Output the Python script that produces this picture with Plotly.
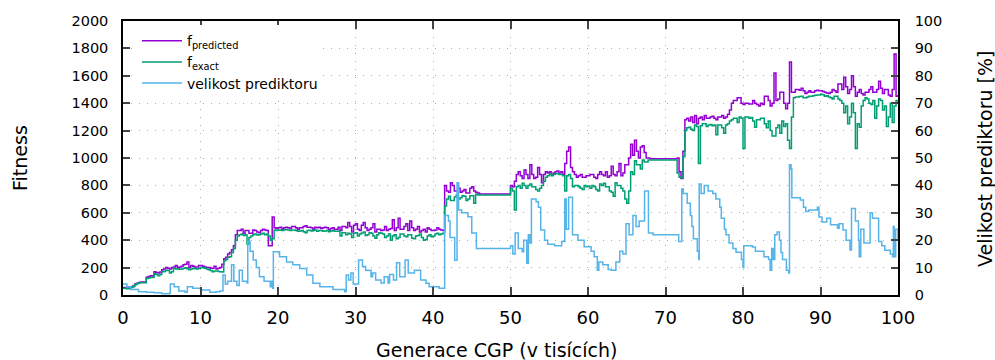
import plotly.graph_objects as go

# ---------------- data ----------------
# fitness sampled every 0.25 (thousands of generations)
x_fit = [i * 0.25 for i in range(401)]

f_exact = [
    50, 48, 45, 47, 55, 60, 75, 82, 88, 90, 90, 89, 120, 125, 130, 128, 155, 150, 140, 150,
    170, 172, 180, 178, 160, 170, 195, 190, 192, 188, 190, 195, 198, 192, 185, 190, 195, 192, 190, 196,
    200, 198, 195, 190, 185, 178, 170, 175, 175, 172, 170, 168, 250, 260, 275, 280, 310, 340, 400, 430,
    440, 445, 435, 440, 370, 420, 430, 440, 445, 438, 440, 445, 450, 440, 445, 430, 400, 410, 475, 470,
    475, 472, 470, 476, 478, 474, 470, 475, 475, 470, 465, 468, 470, 462, 455, 470, 472, 468, 470, 474,
    465, 470, 470, 466, 468, 470, 462, 468, 470, 465, 465, 468, 430, 455, 455, 440, 450, 445, 420, 450,
    455, 430, 445, 452, 460, 435, 440, 455, 450, 430, 415, 440, 455, 450, 445, 420, 430, 445, 400, 430,
    440, 410, 420, 445, 445, 430, 425, 440, 440, 415, 410, 430, 435, 445, 420, 400, 405, 430, 440, 425,
    430, 445, 450, 440, 445, 450, 650, 700, 720, 690, 690, 715, 730, 700, 710, 725, 720, 690, 700, 725,
    725, 670, 735, 730, 730, 730, 730, 730, 730, 730, 730, 730, 730, 730, 730, 730, 730, 730, 730, 730,
    780, 760, 620, 790, 800, 780, 815, 800, 780, 800, 810, 790, 790, 770, 760, 780, 800, 830, 860, 870,
    885, 870, 880, 885, 885, 880, 880, 870, 760, 870, 880, 850, 790, 800, 800, 790, 780, 770, 800, 790,
    795, 780, 800, 790, 770, 760, 810, 800, 815, 790, 790, 760, 750, 720, 820, 800, 800, 780, 760, 700,
    670, 760, 900, 880, 980, 950, 950, 920, 985, 970, 970, 985, 985, 985, 985, 985, 985, 985, 985, 985,
    985, 985, 985, 985, 985, 985, 890, 860, 855, 1010, 1200, 1220, 1225, 1210, 1200, 1240, 1230, 960, 1235, 1250,
    1250, 1230, 1240, 1245, 1235, 1240, 1170, 1240, 1240, 1220, 1180, 1240, 1250, 1270, 1280, 1290, 1290, 1260, 1300, 1290,
    1070, 1300, 1300, 1290, 1295, 1270, 1225, 1280, 1280, 1290, 1290, 1250, 1220, 1270, 1200, 1160, 1160, 1220, 1240, 1180,
    1270, 1230, 1250, 1130, 1070, 1300, 1440, 1445, 1445, 1448, 1450, 1440, 1440, 1445, 1450, 1450, 1455, 1458, 1460, 1460,
    1465, 1462, 1450, 1455, 1445, 1440, 1430, 1450, 1450, 1430, 1420, 1400, 1330, 1380, 1250, 1300, 1400, 1330, 1070, 1250,
    1225, 1380, 1420, 1440, 1430, 1400, 1390, 1420, 1290, 1380, 1430, 1420, 1350, 1380, 1230, 1300, 1400, 1260, 1380, 1420,
    1410,
]

f_predicted = [
    55, 52, 50, 52, 60, 65, 80, 86, 92, 95, 95, 94, 130, 135, 140, 138, 170, 165, 160, 168,
    185, 190, 200, 195, 190, 200, 205, 215, 200, 205, 210, 220, 225, 240, 200, 215, 210, 205, 205, 215,
    215, 210, 205, 200, 200, 195, 195, 210, 190, 195, 200, 225, 265, 275, 300, 310, 330, 360, 440, 470,
    470, 480, 450, 470, 470, 450, 450, 475, 470, 460, 455, 470, 480, 475, 470, 360, 360, 570, 490, 485,
    490, 495, 480, 490, 495, 490, 485, 500, 500, 490, 480, 490, 490, 500, 505, 495, 495, 490, 480, 495,
    490, 495, 485, 490, 495, 490, 475, 485, 490, 480, 480, 495, 470, 500, 500, 490, 530, 500, 460, 510,
    520, 480, 470, 510, 530, 490, 470, 480, 490, 520, 460, 480, 480, 470, 475, 500, 470, 480, 485, 550,
    470, 490, 560, 480, 480, 500, 520, 470, 540, 490, 470, 480, 500, 460, 470, 480, 460, 490, 480, 470,
    470, 475, 490, 480, 475, 470, 800, 760, 750, 820, 800, 760, 760, 780, 750, 760, 770, 745, 745, 780,
    790, 760, 750, 745, 737, 737, 737, 737, 737, 737, 737, 737, 737, 737, 737, 737, 737, 737, 737, 737,
    800, 790, 830, 880, 900, 870, 850, 912, 880, 850, 950, 880, 850, 860, 930, 880, 820, 880, 900, 890,
    900, 880, 890, 900, 905, 890, 900, 880, 960, 1050, 1080, 930, 900, 880, 860, 870, 880, 860, 860, 870,
    870, 880, 880, 860, 850, 880, 900, 880, 870, 900, 860, 870, 940, 880, 870, 900, 960, 870, 890, 950,
    950, 1000, 1100, 1020, 1130, 1050, 1000, 1080, 1090, 1040, 1000, 1000, 995, 995, 995, 995, 995, 995, 995, 995,
    995, 995, 995, 995, 995, 995, 1000, 900, 850, 1050, 1280, 1290, 1270, 1300, 1260, 1310, 1250, 1290, 1300, 1280,
    1310, 1290, 1290, 1300, 1305, 1290, 1280, 1300, 1300, 1310, 1290, 1300, 1320, 1350, 1400, 1420, 1420, 1440, 1440, 1400,
    1390, 1400, 1400, 1395, 1395, 1420, 1400, 1390, 1380, 1400, 1390, 1450, 1450, 1420, 1380, 1400, 1620, 1420, 1430, 1480,
    1480, 1400, 1360, 1400, 1700, 1480, 1480, 1500, 1500, 1495, 1510, 1490, 1470, 1480, 1490, 1480, 1480, 1490, 1495, 1490,
    1490, 1485, 1480, 1475, 1470, 1480, 1500, 1490, 1480, 1540, 1540, 1500, 1590, 1520, 1470, 1500, 1600, 1520, 1450, 1480,
    1500, 1470, 1460, 1480, 1480, 1500, 1520, 1480, 1480, 1500, 1560, 1510, 1470, 1500, 1500, 1460, 1450, 1500, 1760, 1450,
    1460,
]

x_size = [
    0, 0.5, 1, 2, 3, 4, 5, 6, 6.1, 6.6, 7.2, 8, 8.3, 9, 10, 11.2, 12, 12.5,
    12.9, 13.2, 13.5, 14, 14.3, 14.7, 15, 15.4, 16, 16.1, 16.4, 16.8, 17.2,
    17.6, 18.2, 19, 19.2, 19.3, 19.4, 20.2, 21.1, 21.9, 22.8, 23.7, 24.5,
    25.4, 27.1, 28.6, 28.8, 29.1, 29.4, 29.7, 30.4, 30.9, 31.3, 32, 32.2,
    32.6, 33.3, 33.7, 34.2, 34.4, 34.9, 35.3, 35.7, 36.4, 36.8, 37.6, 38.4,
    39.1, 39.5, 40.4, 40.8, 41.4, 41.5, 42, 42.2, 42.8, 43.1, 43.3, 43.7,
    44.5, 45, 45.6, 49.7, 50, 50.3, 50.6, 51, 51.5, 51.7, 52.1, 52.3, 52.5,
    52.7, 53.3, 53.6, 53.9, 54.4, 54.8, 55.7, 56.6, 57, 57.2, 57.5, 58,
    58.7, 59.5, 60.4, 60.8, 61.2, 61.4, 61.9, 62.6, 63, 63.6, 64.1, 64.5,
    64.9, 65.3, 65.8, 66.2, 66.6, 67.3, 67.8, 68.4, 71.6, 71.7, 72.1, 72.3,
    72.8, 73.2, 73.4, 73.6, 74.1, 74.3, 74.35, 74.6, 75, 75.5, 76.1, 76.5,
    77, 77.2, 77.6, 77.8, 78.2, 78.7, 79.1, 79.8, 80, 80.1, 81.2, 81.6,
    82.7, 83.3, 83.5, 83.7, 83.9, 84.1, 84.4, 84.7, 84.9, 85.1, 85.6, 85.9,
    86, 86.2, 86.3, 87.4, 87.8, 88.1, 88.5, 89.4, 89.6, 89.8, 90.2, 90.8,
    91.3, 92.2, 92.4, 92.9, 93.3, 93.8, 94, 94.5, 94.9, 95, 95.2, 95.6,
    96.3, 96.4, 96.7, 97.2, 97.5, 97.9, 98.3, 99, 99.3, 99.4, 99.5, 99.7,
    100,
]

size_pct = [
    4, 3, 2, 1.2, 1, 0.8, 0.5, 0.6, 4, 3, 1.5, 1, 3, 2.5, 1.8, 1, 1.2, 1.5,
    7.3, 4, 5, 11, 5, 3.5, 9, 5, 4.4, 19.5, 16, 12.8, 10,
    6.7, 5, 3, 5, 2.5, 15.8, 14, 12, 11, 9.7, 7.3, 4.3,
    3, 2, 1.2, 7.3, 5.5, 8, 4, 12.8, 10.4, 9, 6.7, 8,
    5.5, 4.4, 6.7, 4.4, 7.5, 5.5, 11.8, 6.7, 12.8, 8, 9, 5.5,
    4.3, 3, 3, 2.5, 2.5, 29, 27, 21, 12.7, 41, 31, 30,
    28.6, 22.6, 17, 17, 18, 15, 22.6, 17, 15.8, 20, 11.6, 22, 19,
    35, 34, 32, 23.7, 20, 18.5, 18, 19.5, 35, 24, 35.7, 22,
    20, 17.6, 16, 14, 9, 12, 11, 9.3, 9, 12, 16, 15,
    26, 22, 29, 25, 27, 38, 22.6, 22, 22, 19.5, 38.7, 37,
    33.5, 29, 25, 20.5, 16, 13, 40.5, 37, 40, 38, 37, 35,
    32, 28, 24, 22, 19, 17, 15.6, 13, 10, 18, 17.5, 16,
    14, 13, 9, 17, 13, 22, 23, 20, 15.5, 13, 9, 8,
    47.5, 46, 35.5, 34.7, 32, 30.5, 31, 31, 32, 28.5, 26.6, 28,
    25.6, 24.4, 26, 23.7, 20, 16.4, 31.6, 27, 20, 14, 24, 19,
    19, 30, 28, 28, 19.5, 18, 16.3, 15, 14, 25, 14, 24,
    20,
]

x_ticks = list(range(0, 101, 10))
y_ticks = list(range(0, 2001, 200))
y2_ticks = list(range(0, 101, 10))

n = min(len(x_fit), len(f_exact), len(f_predicted))
m = min(len(x_size), len(size_pct))

# ---------------- figure ----------------
W, H = 995, 360
L, R, T, B = 123, 97, 21, 65
FONT = "DejaVu Sans"

fig = go.Figure()
fig.add_trace(go.Scatter(
    x=x_fit[:n], y=f_predicted[:n], mode="lines", line_shape="hv",
    name="f<sub>predicted</sub>", line=dict(color="#9400d3", width=1.5),
))
fig.add_trace(go.Scatter(
    x=x_fit[:n], y=f_exact[:n], mode="lines", line_shape="hv",
    name="f<sub>exact</sub>", line=dict(color="#009e73", width=1.5),
))
fig.add_trace(go.Scatter(
    x=x_size[:m], y=size_pct[:m], mode="lines", line_shape="hv", yaxis="y2",
    name="velikost prediktoru", line=dict(color="#56b4e9", width=1.5),
))

grid = dict(showgrid=True, gridcolor="#b0b0b0", gridwidth=1, griddash="1px,7px")

fig.update_layout(
    width=W, height=H,
    margin=dict(l=L, r=R, t=T, b=B, pad=0),
    paper_bgcolor="white", plot_bgcolor="white",
    font=dict(family=FONT, color="black", size=14),
    showlegend=True,
    legend=dict(
        x=0.018, y=0.985, xanchor="left", yanchor="top",
        bgcolor="white", borderwidth=0,
        font=dict(size=14, family=FONT),
        tracegroupgap=0, itemwidth=40,
    ),
    xaxis=dict(
        range=[0, 100], tickvals=x_ticks, ticks="inside", ticklen=8, tickwidth=1.5,
        showline=True, linecolor="black", linewidth=1.5, mirror="ticks",
        tickfont=dict(size=18), ticklabelstandoff=6, zeroline=False, **grid,
    ),
    yaxis=dict(
        range=[0, 2000], tickvals=y_ticks, ticks="inside", ticklen=7, tickwidth=1.5,
        showline=True, linecolor="black", linewidth=1.5,
        tickfont=dict(size=14.5), ticklabelstandoff=10, zeroline=False, **grid,
    ),
    yaxis2=dict(
        range=[0, 100], tickvals=y2_ticks, overlaying="y", side="right",
        ticks="inside", ticklen=7, tickwidth=1.5,
        showline=True, linecolor="black", linewidth=1.5,
        tickfont=dict(size=14.5), ticklabelstandoff=12, showgrid=False, zeroline=False,
    ),
)

pw = W - L - R
ph = H - T - B
def px_x(p):
    return (p - L) / pw
def px_y(p):
    return (H - B - p) / ph

fig.add_annotation(text="Fitness", xref="paper", yref="paper",
                   x=px_x(20), y=px_y(158), textangle=-90, showarrow=False,
                   font=dict(size=19, family=FONT), xanchor="center", yanchor="middle")
fig.add_annotation(text="Velikost prediktoru [%]", xref="paper", yref="paper",
                   x=px_x(985), y=px_y(159), textangle=-90, showarrow=False,
                   font=dict(size=19, family=FONT), xanchor="center", yanchor="middle")
fig.add_annotation(text="Generace CGP (v tisících)", xref="paper", yref="paper",
                   x=px_x(497), y=px_y(350), showarrow=False,
                   font=dict(size=19, family=FONT), xanchor="center", yanchor="middle")

fig.write_html("out.html")
